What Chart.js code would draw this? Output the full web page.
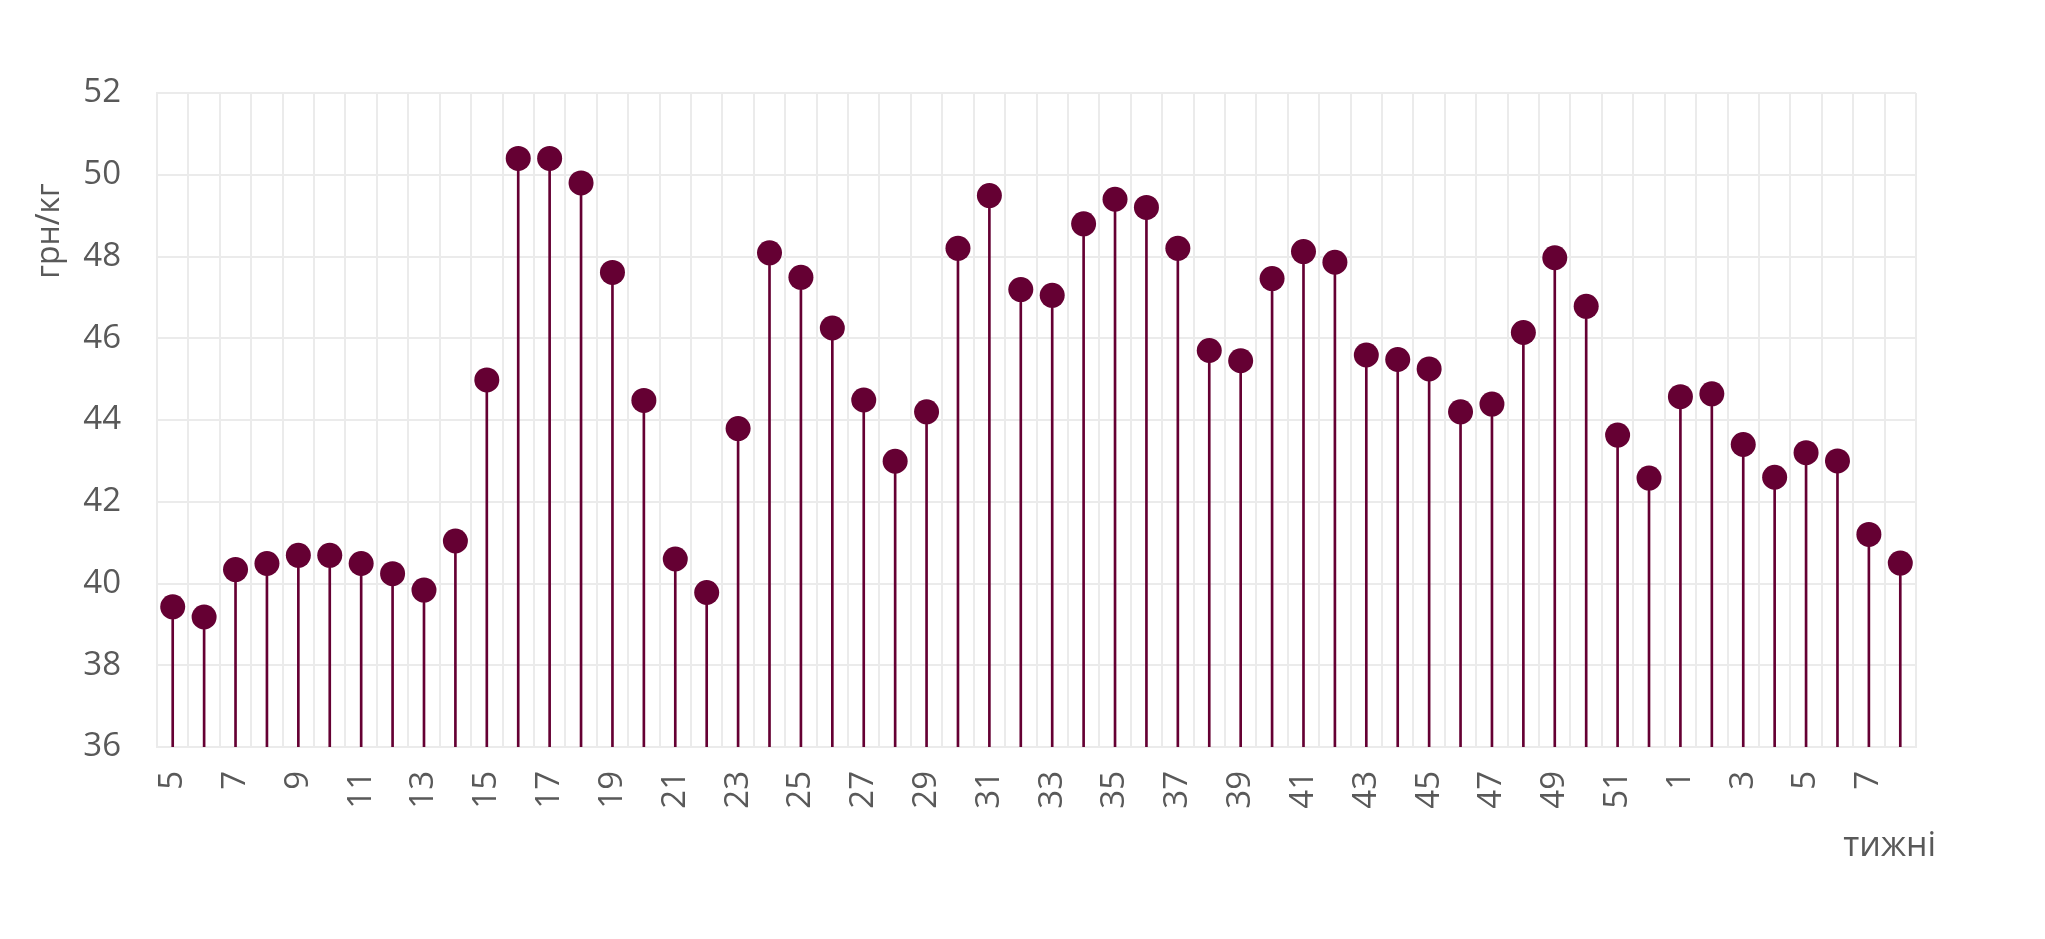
<!DOCTYPE html>
<html>
<head>
<meta charset="utf-8">
<script src="https://cdn.jsdelivr.net/npm/chart.js@4/dist/chart.umd.min.js"></script>
<style>
  body { margin: 0; background: #fff; }
</style>
</head>
<body>
<canvas id="myChart" width="2045" height="939"></canvas>
<script>
// weeks: 5..52, then 1..8 of next year
var weeks = [5,6,7,8,9,10,11,12,13,14,15,16,17,18,19,20,21,22,23,24,25,26,27,28,29,30,
  31,32,33,34,35,36,37,38,39,40,41,42,43,44,45,46,47,48,49,50,51,52,1,2,3,4,5,6,7,8];
var prices = [39.43,39.18,40.34,40.49,40.69,40.69,40.49,40.24,39.84,41.04,44.98,50.4,50.4,49.8,
  47.61,44.48,40.6,39.78,43.79,48.09,47.49,46.25,44.49,42.99,44.2,48.2,49.49,47.19,47.05,48.8,
  49.4,49.2,48.2,45.7,45.45,47.46,48.12,47.86,45.59,45.48,45.25,44.2,44.39,46.14,47.97,46.78,
  43.63,42.58,44.57,44.64,43.4,42.6,43.2,43.0,41.2,40.5];
var yTitle = "грн/кг";
var xTitle = "тижні";

var dotColor = "#650033";
var gridColor = "#ebebeb";
var textColor = "#595959";
var fontName = "'Open Sans'";

// axis titles, placed like in the original
var titlesPlugin = {
  id: "titles",
  afterDraw: function(chart) {
    var ctx = chart.ctx;
    ctx.save();
    ctx.fillStyle = textColor;
    ctx.font = "32px " + fontName;
    ctx.textBaseline = "middle";
    ctx.textAlign = "center";
    ctx.translate(50, 231);
    ctx.rotate(-Math.PI / 2);
    ctx.fillText(yTitle, 0, 0);
    ctx.restore();

    ctx.save();
    ctx.fillStyle = textColor;
    ctx.font = "34px " + fontName;
    ctx.textBaseline = "middle";
    ctx.textAlign = "right";
    ctx.fillText(xTitle, 1936, 846);
    ctx.restore();
  }
};

new Chart("myChart", {
  type: "bar",
  data: {
    labels: weeks,
    datasets: [{
      type: "line",
      data: prices,
      showLine: false,
      pointRadius: 12.5,
      pointBackgroundColor: dotColor,
      pointBorderWidth: 0,
      order: 1
    }, {
      type: "bar",
      data: prices,
      backgroundColor: dotColor,
      barThickness: 2,
      order: 2
    }]
  },
  plugins: [titlesPlugin],
  options: {
    responsive: false,
    animation: false,
    layout: { padding: { left: 0, right: 129, top: 93, bottom: 0 } },
    plugins: { legend: { display: false }, tooltip: { enabled: false } },
    scales: {
      x: {
        offset: true,
        grid: { offset: true, color: gridColor, lineWidth: 2, drawTicks: false },
        border: { color: gridColor, width: 2 },
        ticks: {
          autoSkip: false,
          maxRotation: 90,
          minRotation: 90,
          padding: 24,
          color: textColor,
          font: { family: fontName, size: 33 },
          callback: function(val, i) { return i % 2 == 0 ? weeks[i] : ""; }
        },
        afterFit: function(s) { s.height = 192; }
      },
      y: {
        min: 36,
        max: 52,
        grid: { color: gridColor, lineWidth: 2, drawTicks: false },
        border: { color: gridColor, width: 2 },
        ticks: {
          stepSize: 2,
          padding: 36,
          color: textColor,
          font: { family: fontName, size: 33 }
        },
        afterFit: function(s) { s.width = 157; }
      }
    }
  }
});
</script>
</body>
</html>
